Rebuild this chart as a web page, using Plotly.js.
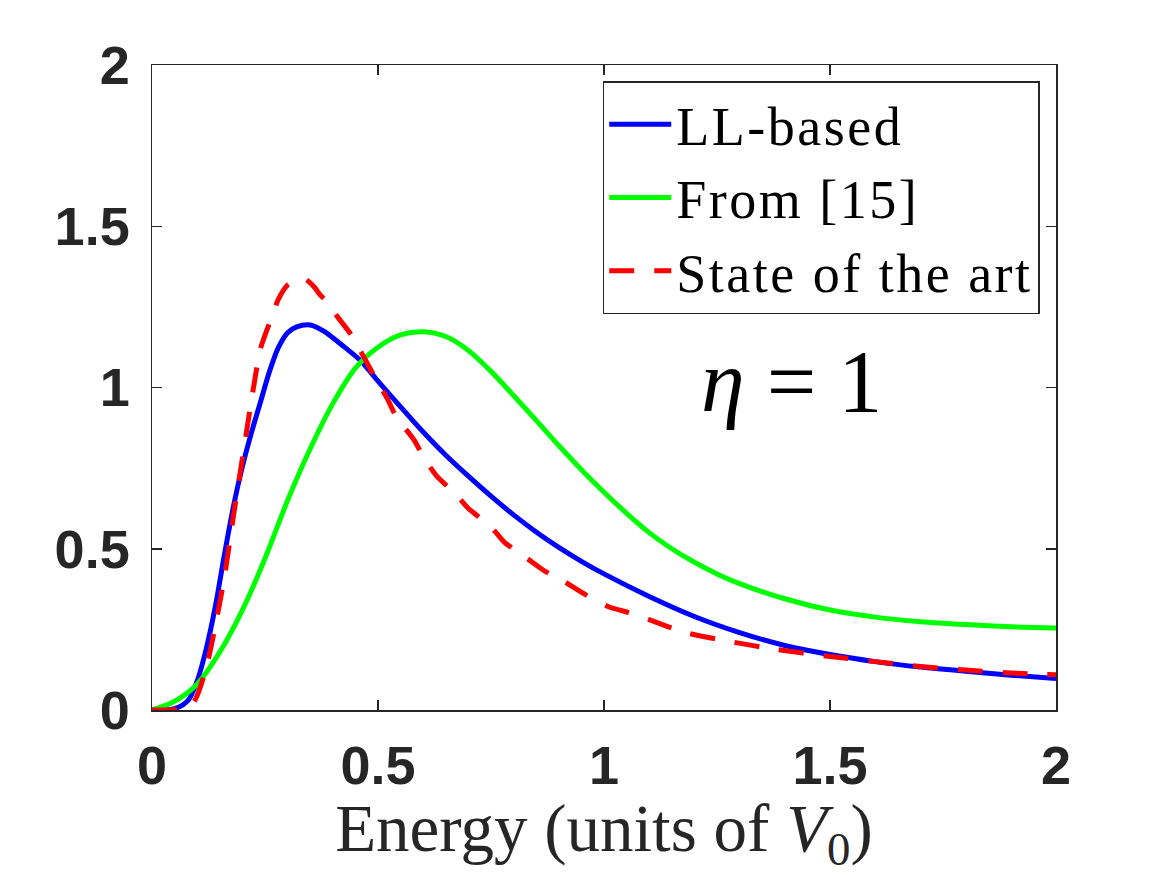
<!DOCTYPE html>
<html>
<head>
<meta charset="utf-8">
<script src="https://cdn.plot.ly/plotly-3.0.1.min.js"></script>
<style>
html,body{margin:0;padding:0;background:#fff;}
text.legendtext{letter-spacing:2.5px;}
</style>
</head>
<body>
<div id="chart" style="width:1167px;height:875px;"></div>
<script>
// LL-based (blue)
const llX = [0,0.05,0.08,0.1,0.12,0.14,0.16,0.18,0.2,0.22,0.24,0.26,0.28,0.3,0.32,0.35,0.38,0.42,0.46,0.5,0.55,0.6,0.65,0.7,0.75,0.8,0.85,0.9,0.95,1.0,1.1,1.2,1.3,1.4,1.5,1.6,1.7,1.8,1.9,2.0];
const llY = [0,0.004,0.03,0.09,0.19,0.32,0.48,0.63,0.755,0.86,0.955,1.05,1.125,1.17,1.188,1.194,1.175,1.132,1.085,1.02,0.94,0.862,0.79,0.725,0.663,0.605,0.552,0.504,0.461,0.422,0.352,0.29,0.24,0.2,0.172,0.15,0.133,0.12,0.108,0.098];

// From [15] (green)
const refX = [0,0.04,0.06,0.08,0.1,0.15,0.2,0.25,0.3,0.35,0.4,0.45,0.5,0.55,0.6,0.65,0.7,0.75,0.8,0.85,0.9,0.95,1.0,1.05,1.1,1.15,1.2,1.25,1.3,1.4,1.5,1.6,1.7,1.8,1.9,2.0];
const refY = [0,0.02,0.035,0.055,0.08,0.18,0.31,0.47,0.65,0.81,0.95,1.06,1.125,1.163,1.173,1.158,1.115,1.05,0.975,0.898,0.82,0.745,0.675,0.61,0.55,0.5,0.458,0.422,0.392,0.345,0.31,0.288,0.274,0.265,0.258,0.254];

// State of the art (red dashed)
const sotaX = [0,0.04,0.07,0.09,0.1,0.12,0.14,0.16,0.18,0.2,0.22,0.24,0.26,0.28,0.3,0.32,0.34,0.36,0.37,0.39,0.41,0.44,0.47,0.49,0.52,0.54,0.58,0.6,0.63,0.67,0.7,0.75,0.78,0.83,0.87,0.91,0.96,1.01,1.06,1.1,1.18,1.28,1.38,1.5,1.6,1.7,1.8,1.9,2.0];
const sotaY = [0,0,0.005,0.02,0.045,0.13,0.26,0.41,0.6,0.78,0.96,1.12,1.2,1.275,1.318,1.335,1.335,1.31,1.29,1.262,1.22,1.165,1.091,1.039,0.967,0.91,0.837,0.786,0.725,0.672,0.625,0.568,0.52,0.47,0.43,0.4,0.357,0.32,0.3,0.28,0.24,0.212,0.188,0.166,0.15,0.135,0.124,0.115,0.109];

const seriesNames = ["LL-based", "From [15]", "State of the art"];
const tickVals = [0, 0.5, 1, 1.5, 2];
const tickText = ["0", "0.5", "1", "1.5", "2"];

const traces = [
  {x: llX, y: llY, name: seriesNames[0], type: "scatter", mode: "lines",
   line: {color: "#0000FF", width: 5, shape: "spline", smoothing: 0.8}},
  {x: refX, y: refY, name: seriesNames[1], type: "scatter", mode: "lines",
   line: {color: "#00FF00", width: 5, shape: "spline", smoothing: 0.8}},
  {x: sotaX, y: sotaY, name: seriesNames[2], type: "scatter", mode: "lines",
   line: {color: "#FF0000", width: 5, dash: "25px,20px", shape: "spline", smoothing: 0.6}}
];

const axisCommon = {
  range: [0, 2],
  tickvals: tickVals,
  ticktext: tickText,
  ticks: "inside",
  ticklen: 10,
  tickwidth: 1.5,
  tickcolor: "#262626",
  showline: true,
  linecolor: "#262626",
  linewidth: 1.5,
  mirror: "ticks",
  showgrid: false,
  zeroline: false,
  tickfont: {family: "Liberation Sans, Arial, sans-serif", size: 54, color: "#262626", weight: "bold"}
};

const layout = {
  width: 1167,
  height: 875,
  margin: {l: 152, r: 111, t: 65, b: 165},
  paper_bgcolor: "#ffffff",
  plot_bgcolor: "#ffffff",
  showlegend: true,
  xaxis: Object.assign({}, axisCommon, {
    ticklabelstandoff: 8,
    title: {text: "Energy (units of <i>V</i><sub>0</sub>)", standoff: 8,
            font: {family: "Liberation Serif, Times New Roman, serif", size: 67, color: "#262626"}}
  }),
  yaxis: Object.assign({}, axisCommon, {ticklabelstandoff: 10}),
  legend: {
    x: 0.982, y: 0.975, xanchor: "right", yanchor: "top",
    bgcolor: "#ffffff", bordercolor: "#262626", borderwidth: 1.5,
    font: {family: "Liberation Serif, Times New Roman, serif", size: 54, color: "#000000"},
    itemwidth: 62,
    tracegroupgap: 0
  },
  annotations: [{
    x: 1.414, y: 1.0, xref: "x", yref: "y", yshift: 6,
    text: "<i>η</i> = 1", showarrow: false,
    xanchor: "center", yanchor: "middle",
    font: {family: "Liberation Serif, Times New Roman, serif", size: 88, color: "#000000"}
  }]
};

Plotly.newPlot("chart", traces, layout, {displayModeBar: false, staticPlot: true});
</script>
</body>
</html>
